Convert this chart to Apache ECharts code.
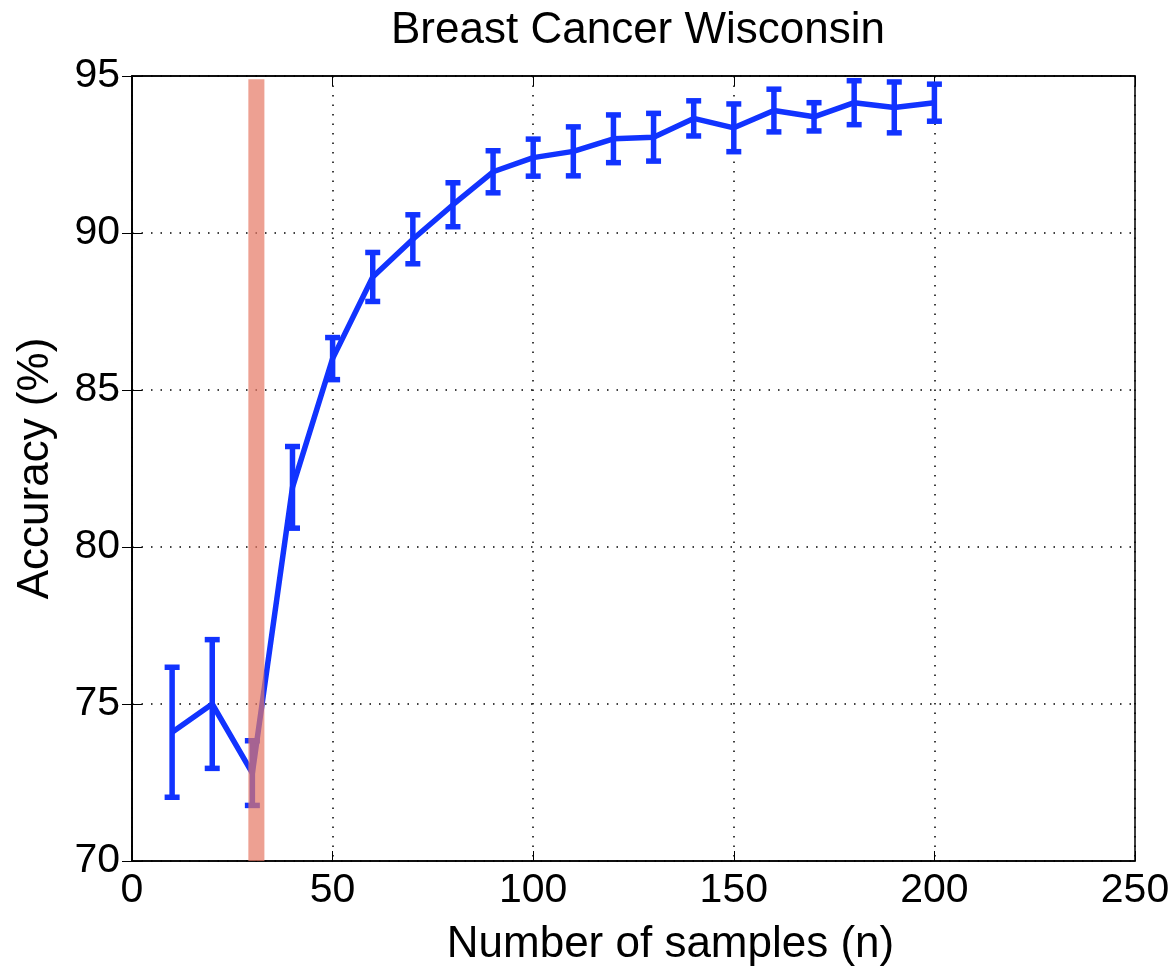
<!DOCTYPE html>
<html>
<head>
<meta charset="utf-8">
<script src="https://cdn.jsdelivr.net/npm/echarts@6/dist/echarts.min.js"></script>
<style>html,body{margin:0;padding:0;background:#fff}#c{width:1173px;height:971px}</style>
</head>
<body>
<div id="c"></div>
<script>
const samples = [10,20,30,40,50,60,70,80,90,100,110,120,130,140,150,160,170,180,190,200];
const accuracy = [74.1,75.0,72.8,81.9,86.0,88.6,89.8,90.9,91.95,92.4,92.6,93.0,93.05,93.65,93.35,93.9,93.7,94.15,94.0,94.15];
const errors = [2.07,2.05,1.03,1.3,0.67,0.78,0.78,0.7,0.67,0.59,0.78,0.76,0.76,0.56,0.76,0.68,0.45,0.7,0.81,0.59];
const bandRange = [29, 33];
const xTicks = [0,50,100,150,200,250];
const yTicks = [70,75,80,85,90,95];

const chart = echarts.init(document.getElementById('c'));
const font = '"Liberation Sans", Helvetica, Arial, sans-serif';
const lineData = samples.map((s,i)=>[s, accuracy[i]]);
const errData = samples.map((s,i)=>[s, accuracy[i]-errors[i], accuracy[i]+errors[i]]);

chart.setOption({
  animation:false,
  title:{text:'Breast Cancer Wisconsin', left:633, textAlign:'center', top:4,
    textStyle:{fontFamily:font, fontSize:44, fontWeight:'normal', color:'#000'}},
  grid:{left:132, right:38, top:76, bottom:110, show:true, borderColor:'#000', borderWidth:1.5,
    backgroundColor:'#fff', containLabel:false, outerBoundsMode:'none'},
  xAxis:[{
    type:'value', min:xTicks[0], max:xTicks[xTicks.length-1], interval:50,
    name:'Number of samples (n)', nameLocation:'middle', nameGap:62,
    nameTextStyle:{fontFamily:font, fontSize:44, color:'#000', padding:[0,0,0,74]},
    axisLine:{show:true, lineStyle:{color:'#000', width:1.5}},
    axisTick:{inside:true, length:10, lineStyle:{color:'#000'}},
    axisLabel:{fontFamily:font, fontSize:41, color:'#000', margin:9},
    splitLine:{show:true, lineStyle:{color:'#000', type:[1.5,8], width:1.5}}
  },{
    type:'value', position:'top', min:0, max:250, interval:50,
    axisLine:{show:true, lineStyle:{color:'#000', width:1.5}},
    axisTick:{inside:true, length:10, lineStyle:{color:'#000'}},
    axisLabel:{show:false}, splitLine:{show:false}
  }],
  yAxis:[{
    type:'value', min:yTicks[0], max:yTicks[yTicks.length-1], interval:5,
    name:'Accuracy (%)', nameLocation:'middle', nameGap:74,
    nameTextStyle:{fontFamily:font, fontSize:44, color:'#000'},
    axisLine:{show:true, lineStyle:{color:'#000', width:1.5}},
    axisTick:{inside:true, length:10, lineStyle:{color:'#000'}},
    axisLabel:{fontFamily:font, fontSize:41, color:'#000', margin:12},
    splitLine:{show:true, lineStyle:{color:'#000', type:[1.5,8], width:1.5}}
  },{
    type:'value', position:'right', min:70, max:95, interval:5,
    axisLine:{show:true, lineStyle:{color:'#000', width:1.5}},
    axisTick:{inside:true, length:10, lineStyle:{color:'#000'}},
    axisLabel:{show:false}, splitLine:{show:false}
  }],
  series:[
    {
      type:'line', data:lineData, symbol:'none', z:3,
      lineStyle:{color:'#1133ff', width:5.5}
    },
    {
      type:'custom', data:errData, z:4,
      renderItem:function(params, api){
        const x = api.value(0);
        const lo = api.coord([x, api.value(1)]);
        const hi = api.coord([x, api.value(2)]);
        const w = 7.5;
        const st = {stroke:'#1133ff', lineWidth:5.5};
        return {type:'group', children:[
          {type:'line', shape:{x1:lo[0], y1:lo[1], x2:hi[0], y2:hi[1]}, style:st},
          {type:'line', shape:{x1:lo[0]-w, y1:lo[1], x2:lo[0]+w, y2:lo[1]}, style:st},
          {type:'line', shape:{x1:hi[0]-w, y1:hi[1], x2:hi[0]+w, y2:hi[1]}, style:st}
        ]};
      }
    },
    {
      type:'custom', data:[[bandRange[0], bandRange[1]]], z:10,
      renderItem:function(params, api){
        const a = api.coord([api.value(0), 94.9]);
        const b = api.coord([api.value(1), 70]);
        return {type:'rect', shape:{x:a[0], y:a[1], width:b[0]-a[0], height:b[1]-a[1]},
          style:{fill:'rgba(230,120,100,0.7)'}};
      }
    }
  ]
});
</script>
</body>
</html>
